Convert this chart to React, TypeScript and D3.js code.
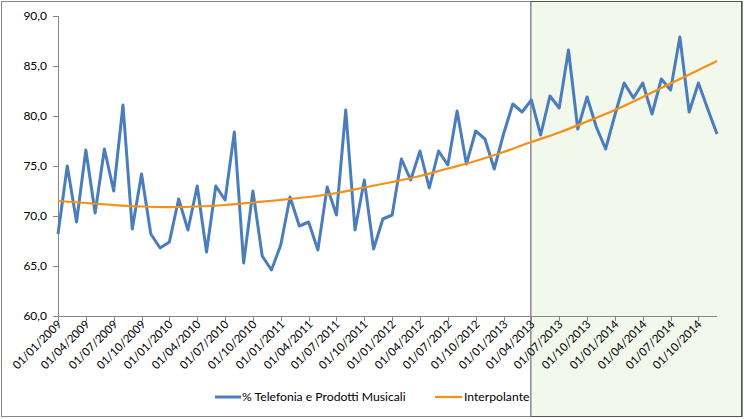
import React from "react";
import * as d3 from "d3";

const values: number[] = [
  68.2, 75.0, 69.4, 76.6, 70.3, 76.7, 72.5, 81.1, 68.7, 74.2,
  68.2, 66.8, 67.4, 71.7, 68.6, 73.0, 66.4, 73.0, 71.6, 78.4,
  65.3, 72.5, 66.0, 64.6, 67.1, 71.9, 69.0, 69.4, 66.6, 72.9,
  70.1, 80.6, 68.6, 73.6, 66.7, 69.7, 70.1, 75.7, 73.6, 76.5,
  72.8, 76.5, 75.1, 80.5, 75.2, 78.5, 77.7, 74.7, 78.2, 81.2,
  80.4, 81.6, 78.1, 82.0, 80.8, 86.6, 78.7, 81.9, 78.9, 76.7,
  80.1, 83.3, 81.8, 83.3, 80.2, 83.7, 82.6, 87.9, 80.4, 83.3,
  80.7, 78.2,
];

const trendIdx: number[] = [0, 3, 6, 9, 12, 15, 18, 21, 24, 27, 30, 33, 36, 39, 42, 45, 48, 51, 54, 57, 60, 63, 66, 69, 71];
const trendVals: number[] = [71.5, 71.3, 71.1, 70.95, 70.9, 70.95, 71.1, 71.35, 71.6, 71.9, 72.3, 72.85, 73.4, 74.0, 74.75, 75.5, 76.4, 77.4, 78.35, 79.45, 80.6, 81.9, 83.25, 84.6, 85.5];

const yTicks: number[] = [60, 65, 70, 75, 80, 85, 90];
const tickLabels: string[] = [
  "01/01/2009", "01/04/2009", "01/07/2009", "01/10/2009",
  "01/01/2010", "01/04/2010", "01/07/2010", "01/10/2010",
  "01/01/2011", "01/04/2011", "01/07/2011", "01/10/2011",
  "01/01/2012", "01/04/2012", "01/07/2012", "01/10/2012",
  "01/01/2013", "01/04/2013", "01/07/2013", "01/10/2013",
  "01/01/2014", "01/04/2014", "01/07/2014", "01/10/2014",
];
const shadeStartIdx = 51;
const seriesName = "% Telefonia e Prodotti Musicali";
const trendName = "Interpolante";

const W = 744, H = 419;
const FONT = "Lato, 'Open Sans', sans-serif";
const BLUE = "#4a7ebb";
const ORANGE = "#f39019";

export default function App() {
  const x = d3.scaleLinear().domain([0, 71]).range([58, 717]);
  const y = d3.scaleLinear().domain([60, 90]).range([316, 16]);

  const line = d3.line<number>().x((_, i) => x(i)).y((d) => y(d));
  const trendLine = d3
    .line<number>()
    .x((_, i) => x(trendIdx[i]))
    .y((d) => y(d))
    .curve(d3.curveMonotoneX);

  return (
    <svg width={W} height={H} style={{ position: "absolute", left: 0, top: 0 }}>
      <rect x={0} y={0} width={W} height={H} fill="#fff" />
      <rect x={1.5} y={1.5} width={741} height={415} fill="#fff" stroke="#878787" strokeWidth={1} />
      <rect x={x(shadeStartIdx) - 0.5} y={1.5} width={742 - x(shadeStartIdx)} height={415} fill="#f3f8ec" stroke="#555" strokeWidth={1} />

      {/* y axis */}
      <line x1={58.5} x2={58.5} y1={16} y2={316} stroke="#868686" />
      {yTicks.map((t) => (
        <g key={t}>
          <line x1={53} x2={58.5} y1={Math.round(y(t)) + 0.5} y2={Math.round(y(t)) + 0.5} stroke="#868686" />
          <text x={47} y={y(t) + 4} textAnchor="end" fontFamily={FONT} fontSize={12} fill="#000">
            {d3.format(".1f")(t).replace(".", ",")}
          </text>
        </g>
      ))}

      {/* x axis */}
      <line x1={58} x2={717} y1={316.5} y2={316.5} stroke="#868686" />
      {tickLabels.map((lab, k) => {
        const px = Math.round(x(k * 3)) + 0.5;
        return (
          <g key={lab}>
            <line x1={px} x2={px} y1={316} y2={321} stroke="#868686" />
            <text
              transform={`translate(${px + 4},${325}) rotate(-45)`}
              textAnchor="end"
              fontFamily={FONT}
              fontSize={11.5}
              fill="#000"
            >
              {lab}
            </text>
          </g>
        );
      })}

      <path d={line(values) || ""} fill="none" stroke={BLUE} strokeWidth={3} strokeLinejoin="round" />
      <path d={trendLine(trendVals) || ""} fill="none" stroke={ORANGE} strokeWidth={2.25} />

      {/* legend */}
      <line x1={215} x2={241} y1={397} y2={397} stroke={BLUE} strokeWidth={3} />
      <text x={242} y={401} fontFamily={FONT} fontSize={12.2} fill="#000">{seriesName}</text>
      <line x1={435} x2={462} y1={397} y2={397} stroke={ORANGE} strokeWidth={2.25} />
      <text x={464} y={401} fontFamily={FONT} fontSize={12.2} fill="#000">{trendName}</text>
    </svg>
  );
}
